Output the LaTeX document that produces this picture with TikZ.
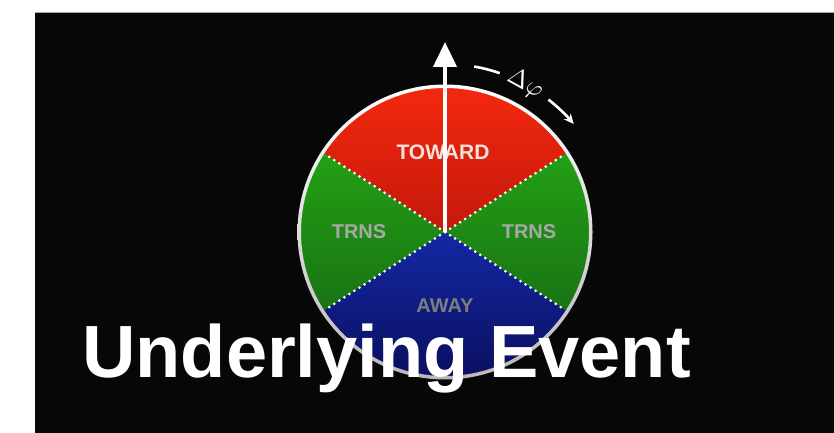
\documentclass[tikz,border=0pt]{standalone}
\usepackage{amsmath}
\usepackage{fontspec}
\setmainfont{Liberation Sans}
\usepackage{graphicx}
\usepackage{tikz}
\usetikzlibrary{arrows.meta, calc}
\definecolor{ubg}{RGB}{7,7,7}
\definecolor{uredtop}{RGB}{245,40,15}
\definecolor{uredbot}{RGB}{195,25,10}
\definecolor{ugreentop}{RGB}{35,160,20}
\definecolor{ugreenbot}{RGB}{25,115,20}
\definecolor{ubluetop}{RGB}{20,40,165}
\definecolor{ubluebot}{RGB}{10,15,95}
\definecolor{ulabel}{RGB}{168,168,168}
\definecolor{uaway}{RGB}{125,125,125}
\definecolor{utoward}{RGB}{246,226,220}

\begin{document}
\begin{tikzpicture}[
  x=1pt, y=1pt,
  seg/.style={font=\fontsize{20}{20}\selectfont\bfseries, inner sep=0pt},
  sep/.style={white, line width=3pt, dash pattern=on 0pt off 6pt, line cap=round},
  axis/.style={white, line width=4pt, -{Triangle[length=25pt, width=23pt]}},
  turn/.style={white, line width=2.6pt},
  title/.style={white, font=\fontsize{74}{80}\selectfont\bfseries, inner sep=0pt}
]
\useasboundingbox (0,0) rectangle (834,433);

% ---- Backdrop ----
\fill[white] (0,0) rectangle (834,433);
\fill[ubg] (35,0) rectangle (834,421);
\draw[gray!70, line width=0.8pt] (35,421) -- (834,421);

% ---- Wheel ----
\coordinate (c) at (445,201);
\shade[top color=uredtop, bottom color=uredbot]
  (c) -- ++(33:145) arc[start angle=33, end angle=147, radius=145] -- cycle;
\shade[top color=ugreentop, bottom color=ugreenbot]
  (c) -- ++(147:145) arc[start angle=147, end angle=213, radius=145] -- cycle;
\shade[top color=ugreentop, bottom color=ugreenbot]
  (c) -- ++(-33:145) arc[start angle=-33, end angle=33, radius=145] -- cycle;
\shade[top color=ubluetop, bottom color=ubluebot]
  (c) -- ++(213:145) arc[start angle=213, end angle=327, radius=145] -- cycle;
\shade[top color=white, bottom color=gray!55, even odd rule]
  (c) circle[radius=147.5] circle[radius=144];

\foreach \a in {33,147,213,327}
  \draw[sep] (c) -- ($(c)+(\a:143)$);

% ---- Region labels ----
\node[seg, text=utoward, font=\fontsize{21}{21}\selectfont\bfseries] (toward) at (443,281) {TOWARD};
\node[seg, text=ulabel] (trnsl) at (359,201) {TRNS};
\node[seg, text=ulabel] (trnsr) at (529,201) {TRNS};
\node[seg, text=uaway] (away) at (445,127) {AWAY};

% ---- Axis and rotation ----
\coordinate (tip) at (445,391);
\draw[axis] (c) -- (tip);

\draw[turn] ($(c)+(80:168)$) arc[start angle=80, end angle=71, radius=168];
\draw[turn, -{Stealth[length=10pt, width=9pt]}]
  ($(c)+(52:168)$) arc[start angle=52, end angle=40, radius=168];
\node[white, rotate=-29, inner sep=0pt] (dphi)
  at ($(c)+(61.5:168)$) {\scalebox{2.5}{$\Delta\varphi$}};

% ---- Title ----
\node[title, anchor=base west] (ttl) at (82,55) {Underlying Event};

\end{tikzpicture}
\end{document}
